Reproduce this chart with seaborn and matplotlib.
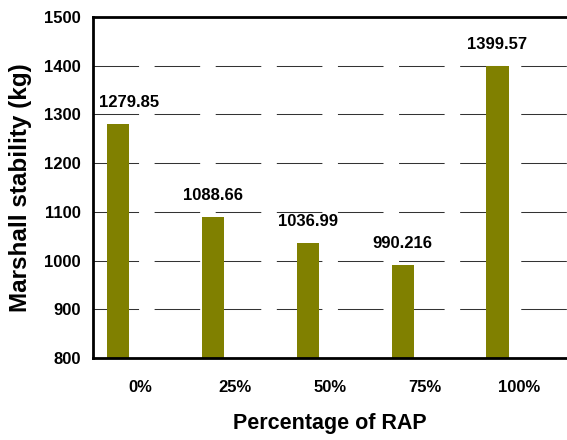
import matplotlib
matplotlib.use("Agg")
import matplotlib.pyplot as plt
import pandas as pd
import seaborn as sns

# Marshall stability for each RAP content
rap_levels = ["0%", "25%", "50%", "75%", "100%"]
stability = [1279.85, 1088.66, 1036.99, 990.216, 1399.57]
y_ticks = [800, 900, 1000, 1100, 1200, 1300, 1400, 1500]

series_order = ["Marshall stability", "series 2", "series 3"]
bar_color = "#808000"

sns.set_style("white")
plt.rcParams["font.family"] = ["Liberation Sans", "DejaVu Sans"]
plt.rcParams["font.weight"] = "bold"
plt.rcParams["lines.scale_dashes"] = False
plt.rcParams["text.color"] = "black"
plt.rcParams["axes.labelcolor"] = "black"
plt.rcParams["xtick.color"] = "black"
plt.rcParams["ytick.color"] = "black"

df = pd.DataFrame({
    "rap": rap_levels,
    "stability": stability,
    "series": series_order[0],
})

fig = plt.figure(figsize=(5.67, 4.4), dpi=100)
ax = fig.add_axes([93 / 567, 1 - 358 / 440, 1 - 93 / 567, (358 - 17) / 440])

sns.barplot(
    data=df, x="rap", y="stability", hue="series", hue_order=series_order,
    order=rap_levels,
    palette={series_order[0]: bar_color, series_order[1]: "#000080",
             series_order[2]: "#800000"},
    width=0.7, gap=0, dodge=True, saturation=1, linewidth=0, errorbar=None,
    legend=False, ax=ax,
)

ax.set_ylim(y_ticks[0], y_ticks[-1])
ax.set_yticks(y_ticks)
ax.set_xlim(-0.5, len(rap_levels) - 0.5)

# value labels above each bar
bars = ax.containers[0]
for i, (patch, val) in enumerate(zip(bars.patches, stability)):
    cx = patch.get_x() + patch.get_width() / 2
    dx = 8 if i == 0 else 0
    ax.annotate(f"{val:g}", xy=(cx, val), xytext=(dx, 15.5),
                textcoords="offset points", ha="center", va="center",
                fontsize=12, fontweight="bold", color="black")

# dashed horizontal gridlines behind the bars
ax.set_axisbelow(True)
ax.yaxis.grid(True, color="#333333", linewidth=0.75,
              linestyle=(0, (32.8, 11.2)))
ax.xaxis.grid(False)

for side in ["left", "bottom", "top"]:
    ax.spines[side].set_visible(True)
    ax.spines[side].set_linewidth(2.0)
    ax.spines[side].set_color("black")
ax.spines["right"].set_visible(False)

ax.tick_params(axis="y", length=0, pad=9, labelsize=12, labelcolor="black")
ax.tick_params(axis="x", length=0, pad=16, labelsize=12, labelcolor="black")
for lbl in ax.get_xticklabels() + ax.get_yticklabels():
    lbl.set_fontweight("bold")

ax.set_xlabel("Percentage of RAP", fontsize=15.5, fontweight="bold",
              color="black")
ax.set_ylabel("Marshall stability (kg)", fontsize=17.5, fontweight="bold",
              color="black")
ax.xaxis.label.set_va("center")
ax.yaxis.label.set_va("center")
ax.xaxis.set_label_coords(0.5, -65 / 341)
ax.yaxis.set_label_coords(-72 / 474, 0.5)

fig.savefig("out.png", dpi=100, facecolor="white")
